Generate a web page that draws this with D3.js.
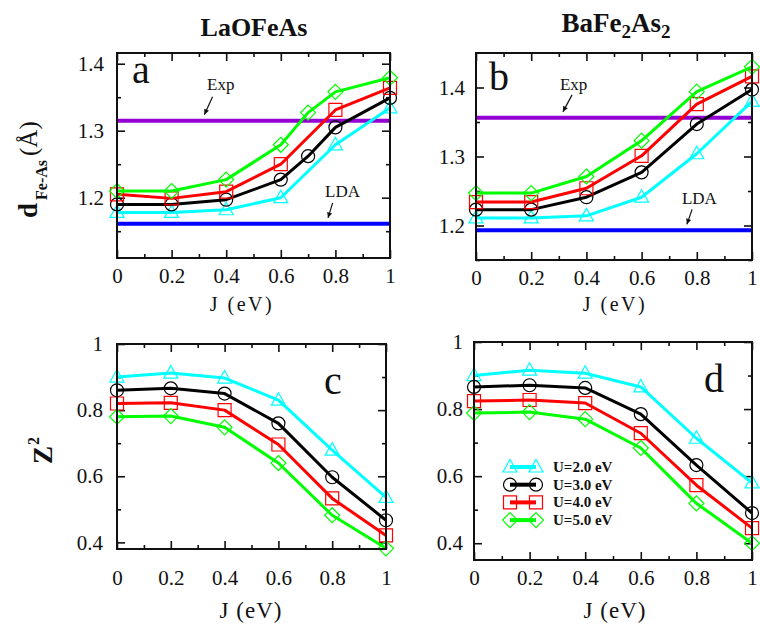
<!DOCTYPE html>
<html>
<script src="https://d3js.org/d3.v7.min.js"></script>
<style>
  body{ margin:0; background:white; }
  svg text{ font-family:"Liberation Serif", "Times New Roman", Times, serif !important; fill:#111; }
</style>
<body>
<script>
// ---- data ----
const jVals = [0, 0.2, 0.4, 0.6, 0.8, 1.0];
const jValsFine = [0, 0.2, 0.4, 0.6, 0.7, 0.8, 1.0];   // U=3 and U=5 in panel a have an extra J=0.7 point
const uLabels = ["U=2.0 eV", "U=3.0 eV", "U=4.0 eV", "U=5.0 eV"];

// panel a : d_Fe-As, LaOFeAs
const dLaU2 = [1.178, 1.178, 1.182, 1.200, 1.279, 1.334];
const dLaU3 = [1.190, 1.190, 1.197, 1.227, 1.262, 1.305, 1.349];
const dLaU4 = [1.205, 1.199, 1.209, 1.250, 1.331, 1.364];
const dLaU5 = [1.210, 1.210, 1.227, 1.279, 1.327, 1.358, 1.379];
const expLa = 1.315, ldaLa = 1.161;

// panel b : d_Fe-As, BaFe2As2
const dBaU2 = [1.211, 1.211, 1.214, 1.241, 1.304, 1.380];
const dBaU3 = [1.223, 1.223, 1.241, 1.277, 1.347, 1.397];
const dBaU4 = [1.234, 1.234, 1.254, 1.301, 1.376, 1.416];
const dBaU5 = [1.247, 1.247, 1.271, 1.323, 1.394, 1.430];
const expBa = 1.356, ldaBa = 1.193;

// panel c : Z^2, LaOFeAs
const zLaU2 = [0.900, 0.912, 0.897, 0.830, 0.679, 0.536];
const zLaU3 = [0.860, 0.866, 0.850, 0.760, 0.597, 0.467];
const zLaU4 = [0.820, 0.822, 0.800, 0.696, 0.533, 0.421];
const zLaU5 = [0.780, 0.782, 0.748, 0.640, 0.482, 0.382];

// panel d : Z^2, BaFe2As2
const zBaU2 = [0.900, 0.916, 0.907, 0.866, 0.713, 0.580];
const zBaU3 = [0.866, 0.871, 0.863, 0.785, 0.633, 0.490];
const zBaU4 = [0.824, 0.827, 0.818, 0.728, 0.573, 0.445];
const zBaU5 = [0.788, 0.791, 0.770, 0.684, 0.519, 0.400];

// ticks
const xTicks = [0, 0.2, 0.4, 0.6, 0.8, 1];
const xTickLabels = ["0", "0.2", "0.4", "0.6", "0.8", "1"];
const xMinor = [0.1, 0.3, 0.5, 0.7, 0.9];
const dTicks = [1.2, 1.3, 1.4];
const dMinor = [1.15, 1.25, 1.35];
const zTicks = [0.4, 0.6, 0.8, 1];
const zTickLabels = ["0.4", "0.6", "0.8", "1"];
const zMinor = [0.5, 0.7, 0.9];

const colors = ["#00ffff", "#000000", "#ff0000", "#00ff00"];
const shapes = ["triangle", "circle", "square", "diamond"];
const SERIF = "Liberation Serif";

const W = 760, H = 632;
const svg = d3.select("body").append("svg").attr("width", W).attr("height", H)
  .attr("font-family", SERIF);

function marker(g, shape, x, y, col) {
  if (shape == "circle") {
    g.append("circle").attr("cx", x).attr("cy", y).attr("r", 6.5)
      .attr("fill", "none").attr("stroke", col).attr("stroke-width", 1.2);
  } else {
    var p;
    if (shape == "triangle") p = "M0,-7.5L7,5L-7,5Z";
    if (shape == "square") p = "M-6.5,-6.5H6.5V6.5H-6.5Z";
    if (shape == "diamond") p = "M0,-7.5L7.5,0L0,7.5L-7.5,0Z";
    g.append("path").attr("d", p).attr("transform", "translate(" + x + "," + y + ")")
      .attr("fill", "none").attr("stroke", col).attr("stroke-width", 1.2);
  }
}

function panel(o) {
  var x = d3.scaleLinear().domain([0, 1]).range([o.x0, o.x1]);
  var y = d3.scaleLinear().domain(o.ydom).range([o.y1, o.y0]);
  var g = svg.append("g");

  // axes: major + minor ticks on all four sides, pointing in
  var bot = g.append("g").attr("transform", "translate(0," + o.y1 + ")")
    .call(d3.axisBottom(x).tickValues(xTicks).tickSize(-8).tickPadding(o.xpad)
      .tickFormat((d, i) => xTickLabels[i]));
  bot.attr("font-family", SERIF).attr("font-size", 21);
  g.append("g").attr("transform", "translate(0," + o.y1 + ")")
    .call(d3.axisBottom(x).tickValues(xMinor).tickSize(-4).tickFormat(""));
  g.append("g").attr("transform", "translate(0," + o.y0 + ")")
    .call(d3.axisTop(x).tickValues(xTicks).tickSize(-8).tickFormat(""));
  g.append("g").attr("transform", "translate(0," + o.y0 + ")")
    .call(d3.axisTop(x).tickValues(xMinor).tickSize(-4).tickFormat(""));

  var left = g.append("g").attr("transform", "translate(" + o.x0 + ",0)")
    .call(d3.axisLeft(y).tickValues(o.yTicks).tickSize(-8).tickPadding(o.ypad)
      .tickFormat((d, i) => o.yLabels[i]));
  left.attr("font-family", SERIF).attr("font-size", 21);
  g.append("g").attr("transform", "translate(" + o.x0 + ",0)")
    .call(d3.axisLeft(y).tickValues(o.yMinor).tickSize(-4).tickFormat(""));
  g.append("g").attr("transform", "translate(" + o.x1 + ",0)")
    .call(d3.axisRight(y).tickValues(o.yTicks).tickSize(-8).tickFormat(""));
  g.append("g").attr("transform", "translate(" + o.x1 + ",0)")
    .call(d3.axisRight(y).tickValues(o.yMinor).tickSize(-4).tickFormat(""));
  g.selectAll(".domain").remove();
  g.selectAll(".tick line").attr("stroke", "#111").attr("stroke-width", 1.6);

  // reference lines (Exp / LDA)
  if (o.refs) {
    o.refs.forEach(function(r) {
      g.append("line").attr("x1", o.x0).attr("x2", o.x1)
        .attr("y1", y(r.v)).attr("y2", y(r.v))
        .attr("stroke", r.col).attr("stroke-width", 4);
      g.append("text").attr("x", x(r.tx)).attr("y", y(r.v) - r.ty)
        .attr("font-size", 17).text(r.name);
      var xa = x(r.ax0), ya = y(r.v) - r.ay0, xb = x(r.ax1), yb = y(r.v) - 6;
      g.append("line").attr("x1", xa).attr("y1", ya).attr("x2", xb).attr("y2", yb)
        .attr("stroke", "#111").attr("stroke-width", 1.2);
      var ang = Math.atan2(yb - ya, xb - xa);
      var hl = 6, hw = 0.45;
      g.append("path").attr("d", "M" + xb + "," + yb +
          "L" + (xb - hl * Math.cos(ang - hw)) + "," + (yb - hl * Math.sin(ang - hw)) +
          "L" + (xb - hl * Math.cos(ang + hw)) + "," + (yb - hl * Math.sin(ang + hw)) + "Z")
        .attr("fill", "#111");
    });
  }

  // series
  var line = d3.line().x(d => x(d[0])).y(d => y(d[1]));
  o.series.forEach(function(s, k) {
    var pts = s.vals.map((v, i) => [s.js[i], v]);
    g.append("path").datum(pts).attr("d", line)
      .attr("fill", "none").attr("stroke", colors[k]).attr("stroke-width", 3)
      .attr("stroke-linejoin", "round");
    pts.forEach(p => marker(g, shapes[k], x(p[0]), y(p[1]), colors[k]));
  });

  // frame
  g.append("rect").attr("x", o.x0).attr("y", o.y0)
    .attr("width", o.x1 - o.x0).attr("height", o.y1 - o.y0)
    .attr("fill", "none").attr("stroke", "#111").attr("stroke-width", 2);

  // panel letter
  g.append("text").attr("x", o.lx).attr("y", o.ly).attr("font-size", 40).text(o.letter);

  // x label
  g.append("text").attr("x", o.jx).attr("y", o.jy).attr("text-anchor", "middle")
    .attr("font-size", o.jsize).attr("letter-spacing", o.jsp).text("J (eV)");

  return {x: x, y: y, g: g};
}

// panel a
panel({x0: 117, x1: 390, y0: 53, y1: 258, ydom: [1.11, 1.416],
  yTicks: dTicks, yLabels: ["1.2", "1.3", "1.4"], yMinor: dMinor, xpad: 10, ypad: 13,
  series: [{js: jVals, vals: dLaU2}, {js: jValsFine, vals: dLaU3},
           {js: jVals, vals: dLaU4}, {js: jValsFine, vals: dLaU5}],
  refs: [{v: expLa, col: "#9400d3", name: "Exp", tx: 0.33, ty: 31, ax0: 0.35, ay0: 24, ax1: 0.32},
         {v: ldaLa, col: "#0000ff", name: "LDA", tx: 0.762, ty: 27, ax0: 0.79, ay0: 21, ax1: 0.773}],
  letter: "a", lx: 132, ly: 83, jx: 242, jy: 311, jsize: 20, jsp: 2.5});

// panel b
panel({x0: 476, x1: 752, y0: 53, y1: 260, ydom: [1.15, 1.45],
  yTicks: dTicks, yLabels: ["1.2", "1.3", "1.4"], yMinor: dMinor, xpad: 10, ypad: 11,
  series: [{js: jVals, vals: dBaU2}, {js: jVals, vals: dBaU3},
           {js: jVals, vals: dBaU4}, {js: jVals, vals: dBaU5}],
  refs: [{v: expBa, col: "#9400d3", name: "Exp", tx: 0.304, ty: 28, ax0: 0.348, ay0: 23, ax1: 0.315},
         {v: ldaBa, col: "#0000ff", name: "LDA", tx: 0.746, ty: 26, ax0: 0.783, ay0: 21, ax1: 0.764}],
  letter: "b", lx: 489, ly: 90, jx: 615, jy: 311, jsize: 20, jsp: 2.5});

// panel c
panel({x0: 117, x1: 386, y0: 344, y1: 549, ydom: [0.38, 1],
  yTicks: zTicks, yLabels: zTickLabels, yMinor: zMinor, xpad: 21, ypad: 14,
  series: [{js: jVals, vals: zLaU2}, {js: jVals, vals: zLaU3},
           {js: jVals, vals: zLaU4}, {js: jVals, vals: zLaU5}],
  letter: "c", lx: 324, ly: 394, jx: 251, jy: 618, jsize: 23, jsp: 1});

// panel d
var pd = panel({x0: 474, x1: 752, y0: 342, y1: 560, ydom: [0.35, 1],
  yTicks: zTicks, yLabels: zTickLabels, yMinor: zMinor, xpad: 10, ypad: 11,
  series: [{js: jVals, vals: zBaU2}, {js: jVals, vals: zBaU3},
           {js: jVals, vals: zBaU4}, {js: jVals, vals: zBaU5}],
  letter: "d", lx: 704, ly: 392, jx: 615, jy: 618, jsize: 23, jsp: 1});

// legend in panel d
var leg = pd.g.append("g").attr("transform", "translate(510,467)");
uLabels.forEach(function(t, k) {
  var yy = k * 17.7;
  leg.append("line").attr("x1", 0).attr("x2", 26).attr("y1", yy).attr("y2", yy)
    .attr("stroke", colors[k]).attr("stroke-width", 4);
  marker(leg, shapes[k], 0, yy, colors[k]);
  marker(leg, shapes[k], 26, yy, colors[k]);
  leg.append("text").attr("x", 43).attr("y", yy + 5).attr("font-size", 15)
    .attr("font-weight", "bold").text(t);
});

// titles
svg.append("text").attr("x", 254).attr("y", 36).attr("text-anchor", "middle")
  .attr("font-size", 26).attr("font-weight", "bold").text("LaOFeAs");
var t2 = svg.append("text").attr("x", 616).attr("y", 32).attr("text-anchor", "middle")
  .attr("font-size", 27).attr("font-weight", "bold");
t2.append("tspan").text("BaFe");
t2.append("tspan").attr("font-size", 19).attr("dy", 6).text("2");
t2.append("tspan").attr("dy", -6).text("As");
t2.append("tspan").attr("font-size", 19).attr("dy", 6).text("2");

// y labels
var yl1 = svg.append("text").attr("transform", "translate(37,218) rotate(-90)")
  .attr("font-weight", "bold");
yl1.append("tspan").attr("font-size", 27).text("d");
yl1.append("tspan").attr("font-size", 16).attr("dy", 10).attr("dx", 3).text("Fe-As");
yl1.append("tspan").attr("font-size", 25).attr("font-weight", "normal").attr("dy", -10).attr("dx", 4).text("(Å)");

var yl2 = svg.append("text").attr("transform", "translate(52,464) rotate(-90)")
  .attr("font-weight", "bold");
yl2.append("tspan").attr("font-size", 27).text("Z");
yl2.append("tspan").attr("font-size", 16).attr("dy", -13).attr("dx", 1).text("2");
</script>
</body>
</html>
